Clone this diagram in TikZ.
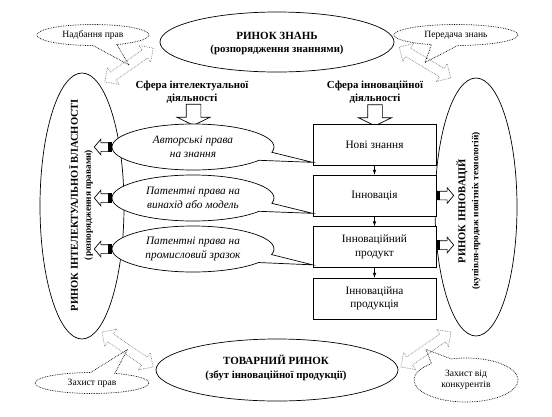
\documentclass[tikz,border=0pt]{standalone}
\usepackage{fontspec}
\setmainfont{Liberation Serif}
\usetikzlibrary{shapes.geometric,shapes.arrows,shapes.callouts}
\begin{document}
\begin{tikzpicture}[x=1pt,y=-1pt,line width=0.7pt,
  market/.style={ellipse,draw,inner sep=0pt},
  title/.style={align=center,font=\bfseries\fontsize{11}{13.5}\selectfont},
  stagebox/.style={rectangle,draw,fill=white,minimum width=123pt,minimum height=41pt,align=center,font=\fontsize{11.3}{13.5}\selectfont},
  rights/.style={ellipse callout,draw,fill=white,minimum width=162pt,minimum height=46pt,inner sep=0pt,align=center,font=\itshape\fontsize{11.3}{13.5}\selectfont,callout pointer arc=22},
  note/.style={ellipse callout,draw,densely dotted,inner sep=0pt,align=center,font=\fontsize{9.6}{11.5}\selectfont,callout pointer arc=25},
  flow/.style={double arrow,draw=gray,densely dotted,inner xsep=0pt,inner ysep=4.5pt,double arrow head extend=5.5pt,double arrow tip angle=90},
  into/.style={single arrow,draw,fill=white,inner xsep=7pt,inner ysep=0pt,single arrow head extend=9pt,single arrow tip angle=128,shape border rotate=270,minimum height=21pt},
  sidearrow/.style={single arrow,draw,fill=white,inner xsep=0pt,inner ysep=4pt,single arrow head extend=3.5pt,single arrow tip angle=100,minimum height=17pt}]
\useasboundingbox (0,0) rectangle (552,416);
% markets
\node[market,minimum width=84pt,minimum height=266pt] (riv) at (82,206) {};
\node[market,minimum width=82pt,minimum height=258pt] (rin) at (476,207) {};
\node[market,minimum width=234pt,minimum height=60pt] (rz) at (277,42) {};
\node[market,minimum width=242pt,minimum height=62pt] (tr) at (277,370) {};
\node[title] (rzt) at (277,43.5) {РИНОК ЗНАНЬ\\{\fontsize{10.8}{12}\selectfont(розпорядження знаннями)}};
\node[title] (trt) at (276,368) {ТОВАРНИЙ РИНОК\\{\fontsize{10.8}{12}\selectfont(збут інноваційної продукції)}};
\node[title,rotate=90,font=\bfseries\fontsize{10.5}{13}\selectfont] (rivt) at (81,205) {РИНОК ІНТЕЛЕКТУАЛЬНОЇ ВЛАСНОСТІ\\{\fontsize{9.3}{10}\selectfont(розпорядження правами)}};
\node[title,rotate=90,font=\bfseries\fontsize{10.5}{13}\selectfont] (rint) at (468.5,211) {РИНОК ІННОВАЦІЙ\\{\fontsize{9.3}{10}\selectfont(купівля-продаж новітніх технологій)}};
% flows between markets
\node[flow,minimum height=59pt,rotate=35] (fa1) at (129,65) {};
\node[flow,minimum height=60pt,rotate=-31] (fa2) at (425,62.5) {};
\node[flow,minimum height=62pt,rotate=-34.5] (fa3) at (127.5,349.5) {};
\node[flow,minimum height=61pt,rotate=35] (fa4) at (426,349.5) {};
\node[note,minimum width=112pt,minimum height=21pt,callout absolute pointer=(fa1.center)] (n1) at (93,35) {Надбання прав};
\node[note,minimum width=124pt,minimum height=21pt,callout absolute pointer=(fa2.center)] (n2) at (456,35) {Передача знань};
\node[note,minimum width=114pt,minimum height=21pt,callout absolute pointer=(fa3.center)] (n3) at (92,383) {Захист прав};
\node[note,minimum width=104pt,minimum height=44pt,callout absolute pointer=(fa4.center)] (n4) at (466,380) {Захист від\\конкурентів};
% spheres
\node[title,font=\bfseries\fontsize{10.8}{12.5}\selectfont] (sfi) at (192,92) {Сфера інтелектуальної\\діяльності};
\node[title,font=\bfseries\fontsize{10.8}{12.5}\selectfont] (sfn) at (375,92) {Сфера інноваційної\\діяльності};
\node[into] (ai) at (193.5,113) {};
\node[into] (an) at (375,113.5) {};
% innovation chain
\node[stagebox] (nz) at (374.5,144.5) {Нові знання};
\node[stagebox] (inn) at (374.5,195.5) {Інновація};
\node[stagebox] (ip) at (374.5,247) {Інноваційний\\продукт};
\node[stagebox] (ipr) at (374.5,298.5) {Інноваційна\\продукція};
\draw[-latex] (nz) -- (inn);
\draw[-latex] (inn) -- (ip);
\draw[-latex] (ip) -- (ipr);
% rights
\node[rights,callout absolute pointer={([yshift=3pt]nz.south west)}] (rc1) at (193,147) {Авторські права\\на знання};
\node[rights,callout absolute pointer={([yshift=3pt]inn.south west)}] (rc2) at (193,198) {Патентні права на\\винахід або модель};
\node[rights,callout absolute pointer={([yshift=3pt]ip.south west)}] (rc3) at (193,249) {Патентні права на\\промисловий зразок};
% side arrows
\node[sidearrow,shape border rotate=180,anchor=tail] (la1) at (rc1.west) {};
\node[sidearrow,shape border rotate=180,anchor=tail] (la2) at (rc2.west) {};
\node[sidearrow,shape border rotate=180,anchor=tail] (la3) at (rc3.west) {};
\node[sidearrow,anchor=tail] (ra1) at (inn.east) {};
\node[sidearrow,anchor=tail] (ra2) at ([yshift=2pt]ip.east) {};
\fill (la1.before tail) rectangle ([xshift=-3.5pt]la1.after tail);
\fill (la2.before tail) rectangle ([xshift=-3.5pt]la2.after tail);
\fill (la3.before tail) rectangle ([xshift=-3.5pt]la3.after tail);
\fill (ra1.before tail) rectangle ([xshift=3.5pt]ra1.after tail);
\fill (ra2.before tail) rectangle ([xshift=3.5pt]ra2.after tail);
\end{tikzpicture}
\end{document}
